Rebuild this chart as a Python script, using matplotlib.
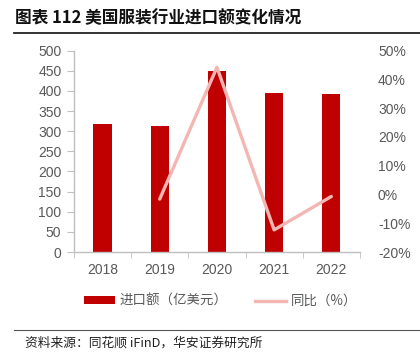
import matplotlib
matplotlib.use("Agg")
import matplotlib.pyplot as plt
from matplotlib.lines import Line2D
from matplotlib.patches import Patch
from matplotlib.ticker import FuncFormatter

plt.rcParams['font.family'] = ['Liberation Sans', 'Noto Sans CJK SC', 'DejaVu Sans']

years = ['2018', '2019', '2020', '2021', '2022']
imports = [318.6, 313.5, 450.5, 395.0, 391.0]      # 亿美元
yoy = [None, -1.6, 44.2, -12.3, -0.7]              # %

bar_color = '#C00000'
line_color = '#F4B6B2'
gray = '#595959'

fig = plt.figure(figsize=(4.2, 3.56), dpi=100)
ax = fig.add_axes([0.176, 0.292, 0.681, 0.566])

x = list(range(len(years)))
ax.bar(x, imports, width=0.32, color=bar_color, zorder=2)
ax.set_xlim(-0.5, len(years) - 0.5)
ax.set_ylim(0, 500)
ax.set_yticks(range(0, 501, 50))
ax.set_xticks(x)
ax.set_xticklabels(years)
ax.set_xticks([i - 0.5 for i in range(len(years) + 1)], minor=True)
ax.tick_params(axis='x', which='major', length=0, pad=8, labelsize=10, labelcolor=gray)
ax.tick_params(axis='x', which='minor', length=4, color='#BFBFBF', direction='out')
ax.tick_params(axis='y', length=5, color='#BFBFBF', labelsize=10, labelcolor=gray, pad=4)
for s in ['top', 'right']:
    ax.spines[s].set_visible(False)
for s in ['left', 'bottom']:
    ax.spines[s].set_color('#BFBFBF')
    ax.spines[s].set_linewidth(1)

ax2 = ax.twinx()
lx = [i for i, v in zip(x, yoy) if v is not None]
ly = [v for v in yoy if v is not None]
ax2.plot(lx, ly, color=line_color, linewidth=2.4, solid_capstyle='round', zorder=3)
ax2.set_ylim(-20, 50)
ax2.set_yticks(range(-20, 51, 10))
ax2.yaxis.set_major_formatter(FuncFormatter(lambda v, p: f'{v:.0f}%'))
ax2.tick_params(axis='y', length=0, labelsize=10, labelcolor=gray, pad=13)
for s in ax2.spines.values():
    s.set_visible(False)

handles = [Patch(facecolor=bar_color, edgecolor='none'),
           Line2D([0], [0], color=line_color, linewidth=2.4)]
leg = fig.legend(handles, ['进口额（亿美元）', '同比（%）'], loc='center',
                 bbox_to_anchor=(0.525, 0.155), ncol=2, frameon=False,
                 fontsize=9.7, handlelength=2.3, handleheight=0.5,
                 columnspacing=2.1, handletextpad=0.3)
for t in leg.get_texts():
    t.set_color(gray)
    t.set_family(['Noto Sans CJK SC', 'DejaVu Sans'])

fig.text(0.036, 0.948, '图表 112 美国服装行业进口额变化情况', fontsize=12, fontweight='bold',
         family=['Noto Sans CJK SC', 'DejaVu Sans'], va='center', ha='left', color='#111111')
fig.add_artist(Line2D([0.033, 1.0], [0.907, 0.907], color='#222222', linewidth=1.3))
fig.add_artist(Line2D([0.033, 1.0], [0.072, 0.072], color='#555555', linewidth=0.8))
fig.text(0.06, 0.035, '资料来源：同花顺 iFinD，华安证券研究所', fontsize=9.2,
         family=['Noto Sans CJK SC', 'DejaVu Sans'], va='center', ha='left', color='#222222')

fig.savefig('out.png', dpi=100)
